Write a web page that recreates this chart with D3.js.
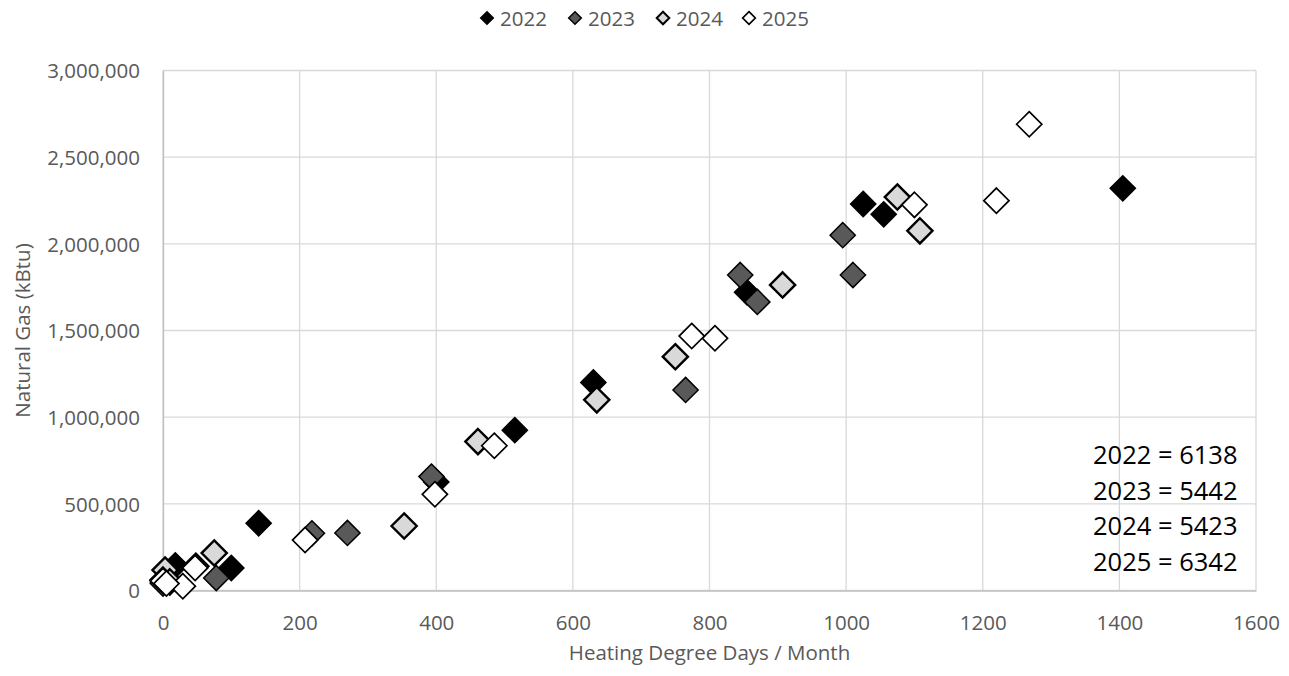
<!DOCTYPE html>
<html><head><meta charset="utf-8">
<script src="https://cdn.jsdelivr.net/npm/d3@7"></script>
<style>body{margin:0;background:#fff}svg{display:block}text{font-family:"Open Sans",sans-serif}</style>
</head><body><svg id="c" width="1289" height="676"></svg>
<script>
// ---- data ----
const years = ["2022","2023","2024","2025"];
const hdd2022 = [1405,1055,855,515,140,18,2,0,100,400,630,1025];
const gas2022 = [2320000,2170000,1720000,925000,388000,145000,60000,55000,130000,626000,1200000,2230000];
const hdd2023 = [995,1010,845,870,765,393,270,218,78,0,0,3];
const gas2023 = [2050000,1820000,1820000,1665000,1157000,657000,332000,330000,72000,45000,40000,55000];
const hdd2024 = [1075,1108,907,750,635,461,353,75,48,3,0,10];
const gas2024 = [2270000,2075000,1763000,1349000,1100000,859000,372000,216000,140000,118000,60000,50000];
const hdd2025 = [1268,1220,1100,808,774,485,398,208,47,29,0,5];
const gas2025 = [2690000,2249000,2225000,1455000,1468000,835000,555000,291000,130000,25000,55000,40000];
const annotations = ["2022 = 6138","2023 = 5442","2024 = 5423","2025 = 6342"];
const xTicks = [0,200,400,600,800,1000,1200,1400,1600];
const yTicks = [0,500000,1000000,1500000,2000000,2500000,3000000];
const xTitle = "Heating Degree Days / Month";
const yTitle = "Natural Gas (kBtu)";

const seriesData = [hdd2022,hdd2023,hdd2024,hdd2025].map((h,i)=>({
  year: years[i],
  pts: h.map((x,j)=>({x, y:[gas2022,gas2023,gas2024,gas2025][i][j]}))
}));
const styles = {
  "2022": {fill:"#000000", sw:1.5},
  "2023": {fill:"#595959", sw:1.5},
  "2024": {fill:"#d9d9d9", sw:2.4},
  "2025": {fill:"#ffffff", sw:1.7}
};

const svg = d3.select("#c");
const L=163, R=1256, T=70.5, B=590.5;
const x = d3.scaleLinear().domain([0,1600]).range([L,R]);
const y = d3.scaleLinear().domain([0,3000000]).range([B,T]);
const grid = "#d9d9d9", tickCol = "#595959";

// gridlines
svg.append("g").selectAll("line").data(yTicks).join("line")
  .attr("x1",L).attr("x2",R).attr("y1",d=>y(d)).attr("y2",d=>y(d))
  .attr("stroke",grid).attr("stroke-width",1.3);
svg.append("g").selectAll("line").data(xTicks).join("line")
  .attr("y1",T).attr("y2",B).attr("x1",d=>x(d)).attr("x2",d=>x(d))
  .attr("stroke",grid).attr("stroke-width",1.3);

// axes
const fmt = d3.format(",");
const yAxis = svg.append("g").attr("transform",`translate(${L},0)`)
  .call(d3.axisLeft(y).tickValues(yTicks).tickFormat(fmt).tickSize(0).tickPadding(23));
yAxis.select(".domain").attr("stroke","#bfbfbf").attr("stroke-width",1.3);
yAxis.selectAll("text").attr("fill",tickCol).style("font-size","20.5px").attr("dy","0.35em");
const xAxis = svg.append("g").attr("transform",`translate(0,${B})`)
  .call(d3.axisBottom(x).tickValues(xTicks).tickFormat(d3.format("d")).tickSize(0).tickPadding(22));
xAxis.select(".domain").attr("stroke","#bfbfbf").attr("stroke-width",1.3);
xAxis.selectAll("text").attr("fill",tickCol).style("font-size","20.5px").attr("dy","0.35em").attr("y",32);

// axis titles
svg.append("text").attr("x",(L+R)/2).attr("y",652).attr("text-anchor","middle")
  .attr("dominant-baseline","central").attr("fill",tickCol).style("font-size","20.5px").text(xTitle);
svg.append("text").attr("transform",`translate(22,${(T+B)/2}) rotate(-90)`).attr("text-anchor","middle")
  .attr("dominant-baseline","central").attr("fill",tickCol).style("font-size","20.5px").text(yTitle);

// markers
const diamond = d3.symbol().type(d3.symbolDiamond2).size(Math.pow(12.6/0.62625,2));
seriesData.forEach(s=>{
  const st = styles[s.year];
  svg.append("g").selectAll("path").data(s.pts).join("path")
    .attr("d",diamond).attr("transform",d=>`translate(${x(d.x)},${y(d.y)})`)
    .attr("fill",st.fill).attr("stroke","#000").attr("stroke-width",st.sw).attr("stroke-linejoin","miter");
});

// legend
const legMark = d3.symbol().type(d3.symbolDiamond2).size(Math.pow(6.3/0.62625,2));
const legX = [487,575,663,749];
const leg = svg.append("g");
years.forEach((yr,i)=>{
  const st = styles[yr];
  leg.append("path").attr("d",legMark).attr("transform",`translate(${legX[i]},18)`)
    .attr("fill",st.fill).attr("stroke","#000").attr("stroke-width",Math.min(st.sw,2));
  leg.append("text").attr("x",legX[i]+13).attr("y",18).attr("dominant-baseline","central")
    .attr("fill",tickCol).style("font-size","20.5px").text(yr);
});

// annotation
svg.append("g").selectAll("text").data(annotations).join("text")
  .attr("x",1093).attr("y",(d,i)=>454+i*35.5).attr("dominant-baseline","central")
  .attr("fill","#000").style("font-size","25.5px").text(d=>d);
</script></body></html>
